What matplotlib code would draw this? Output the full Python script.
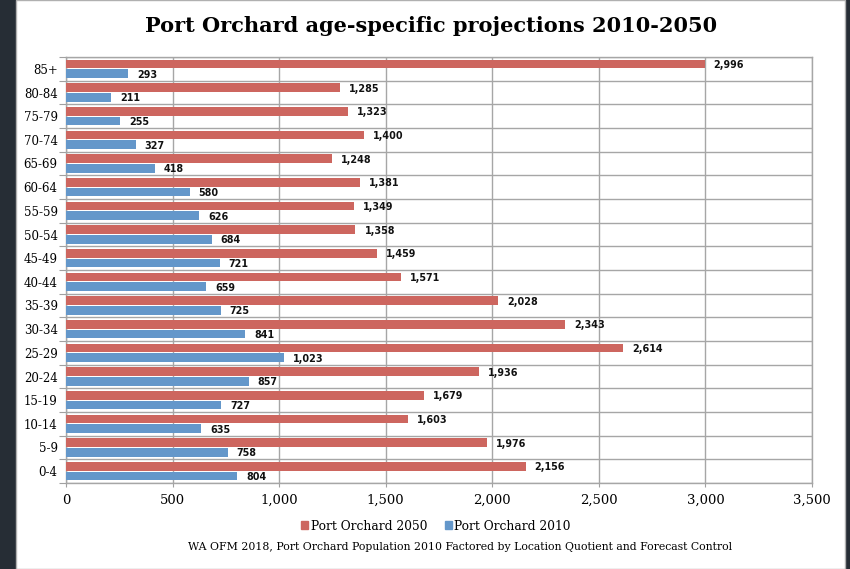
import matplotlib
matplotlib.use("Agg")
import matplotlib.pyplot as plt
from matplotlib.patches import Rectangle
import numpy as np

categories = ["0-4", "5-9", "10-14", "15-19", "20-24", "25-29", "30-34", "35-39",
              "40-44", "45-49", "50-54", "55-59", "60-64", "65-69", "70-74", "75-79",
              "80-84", "85+"]
pop_2050 = [2156, 1976, 1603, 1679, 1936, 2614, 2343, 2028, 1571, 1459, 1358, 1349,
            1381, 1248, 1400, 1323, 1285, 2996]
pop_2010 = [804, 758, 635, 727, 857, 1023, 841, 725, 659, 721, 684, 626, 580, 418,
            327, 255, 211, 293]
x_ticks = [0, 500, 1000, 1500, 2000, 2500, 3000, 3500]

red = "#CD665F"
blue = "#6497CA"
W, H = 850, 569

fig = plt.figure(figsize=(W / 100, H / 100), dpi=100, facecolor="#262d35")
fig.patches.append(Rectangle((16 / W, 0), (845 - 16) / W, 1, transform=fig.transFigure,
                             facecolor="white", edgecolor="#b0b0b0", lw=1, zorder=-10))

ax = fig.add_axes([66 / W, 1 - 483 / H, (812 - 66) / W, (483 - 57) / H])
ax.set_zorder(5)
n = len(categories)
y = np.arange(n)
h = 0.37
off = 0.2
ax.barh(y + off, pop_2050, height=h, color=red, zorder=3)
ax.barh(y - off, pop_2010, height=h, color=blue, zorder=3)

lab_kw = dict(fontsize=6.9, fontweight="bold", family="DejaVu Sans", va="center",
              ha="left", color="#111111", zorder=4)
for i in range(n):
    ax.annotate(f"{pop_2050[i]:,}", (pop_2050[i], y[i] + off - 0.04),
                xytext=(6.5, 0), textcoords="offset points", **lab_kw)
    ax.annotate(f"{pop_2010[i]:,}", (pop_2010[i], y[i] - off - 0.04),
                xytext=(6.5, 0), textcoords="offset points", **lab_kw)

ax.set_xlim(0, 3500)
ax.set_ylim(-0.5, n - 0.5)
ax.set_xticks(x_ticks)
ax.set_xticklabels([f"{v:,}" for v in x_ticks], family="DejaVu Serif", fontsize=9.5)
ax.set_yticks(np.arange(n + 1) - 0.5)
ax.set_yticklabels([])
ax.set_yticks(y, minor=True)
ax.set_yticklabels(categories, minor=True, family="DejaVu Serif", fontsize=8.5)
ax.tick_params(axis="y", which="major", length=5, color="#a0a0a0", direction="out")
ax.tick_params(axis="y", which="minor", length=0, pad=6)
ax.tick_params(axis="x", length=3, color="#a0a0a0", direction="out", pad=5)
ax.grid(True, which="major", color="#a6a6a6", lw=1, zorder=1)
ax.set_axisbelow(True)
for s in ax.spines.values():
    s.set_color("#a6a6a6")
    s.set_linewidth(1)

fig.text(431 / W, 1 - 26 / H, "Port Orchard age-specific projections 2010-2050",
         ha="center", va="center", family="DejaVu Serif", fontweight="bold", fontsize=15.0)

handles = [Rectangle((0, 0), 1, 1, color=red), Rectangle((0, 0), 1, 1, color=blue)]
fig.legend(handles, ["Port Orchard 2050", "Port Orchard 2010"], loc="center",
           bbox_to_anchor=(436 / W, 1 - 526 / H), ncol=2, frameon=False,
           handlelength=0.6, handleheight=0.6, handletextpad=0.2, columnspacing=1.4,
           prop=dict(family="DejaVu Serif", size=8.8))

fig.text(460 / W, 1 - 547 / H,
         "WA OFM 2018, Port Orchard Population 2010 Factored by Location Quotient and Forecast Control",
         ha="center", va="center", family="DejaVu Serif", fontsize=7.85)

fig.savefig("out.png", dpi=100, facecolor=fig.get_facecolor())
